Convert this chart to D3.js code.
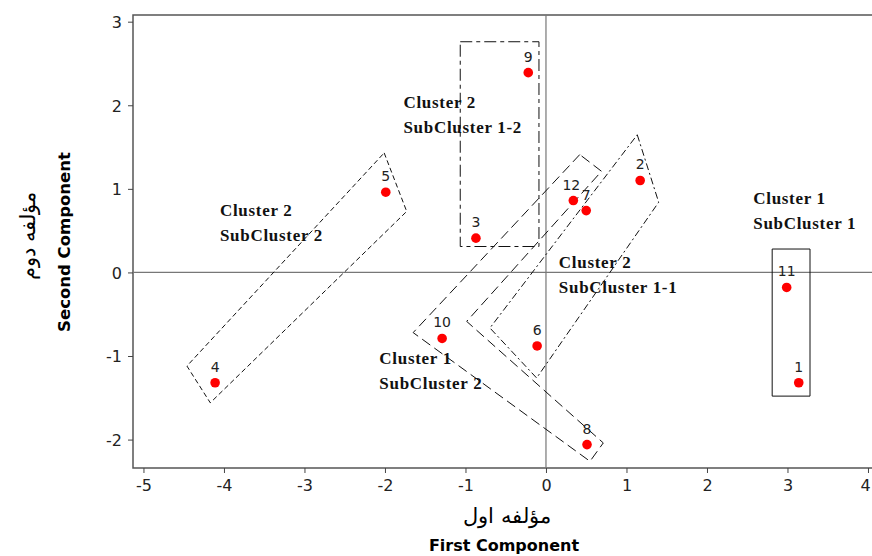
<!DOCTYPE html>
<html lang="en">
<head>
<meta charset="UTF-8">
<title>Cluster plot</title>
<style>
  body { margin: 0; background: #fff; }
  svg { display: block; }
  .tick text { font-family: "DejaVu Sans", sans-serif; font-size: 16px; fill: #222; }
  .tick line { stroke: #444; }
  .clab { font-family: "Liberation Serif", serif; font-weight: bold; font-size: 17px; letter-spacing: 0.7px; fill: #111; }
  .plab { font-family: "DejaVu Sans", sans-serif; font-size: 14px; fill: #222; }
</style>
</head>
<body>
<svg width="872" height="556"></svg>
<script src="https://d3js.org/d3.v7.min.js"></script>
<script>
// point scores
var pointIds = ["1", "2", "3", "4", "5", "6", "7", "8", "9", "10", "11", "12"];
var pointX = [3.14, 1.17, -0.87, -4.11, -1.99, -0.11, 0.50, 0.51, -0.22, -1.29, 2.99, 0.34];
var pointY = [-1.32, 1.10, 0.41, -1.32, 0.96, -0.88, 0.74, -2.06, 2.39, -0.79, -0.18, 0.86];

var xTicks = [-5, -4, -3, -2, -1, 0, 1, 2, 3, 4];
var yTicks = [-2, -1, 0, 1, 2, 3];

// cluster outlines (data coords)
var hullC2S2 = [[-2.01, 1.43], [-1.73, 0.73], [-4.17, -1.56], [-4.46, -1.12]];
var hullC2S12 = [[-1.065, 2.76], [-0.087, 2.76], [-0.087, 0.31], [-1.065, 0.31]];
var hullC2S11 = [[1.134, 1.647], [1.40, 0.84], [-0.116, -1.263], [-0.696, -0.665]];
var hullC1S2 = [[0.42, 1.41], [-1.65, -0.72], [0.547, -2.26], [0.712, -2.04], [-0.985, -0.586], [0.69, 1.21]];
var hullC1S1 = [[2.81, 0.28], [3.28, 0.28], [3.28, -1.48], [2.81, -1.48]];

var clusterLines1 = ["Cluster 2", "Cluster 2", "Cluster 2", "Cluster 1", "Cluster 1"];
var clusterLines2 = ["SubCluster 2", "SubCluster 1-2", "SubCluster 1-1", "SubCluster 2", "SubCluster 1"];
var clusterLabX = [-4.05, -1.77, 0.16, -2.07, 2.575];
var clusterLabY = [0.68, 1.97, 0.05, -1.10, 0.82];

var svg = d3.select("svg");

var x = d3.scaleLinear().domain([-5.13, 4.05]).range([133, 872]);
var y = d3.scaleLinear().domain([-2.34, 3.08]).range([468, 15]);

// frame
svg.append("rect")
    .attr("x", x.range()[0]).attr("y", y.range()[1])
    .attr("width", 745).attr("height", y.range()[0] - y.range()[1])
    .attr("fill", "none").attr("stroke", "#555").attr("stroke-width", 1.5);

// reference lines
svg.append("line").attr("x1", x(0)).attr("x2", x(0)).attr("y1", y.range()[1]).attr("y2", y.range()[0])
    .attr("stroke", "#777").attr("stroke-width", 1.2);
svg.append("line").attr("x1", x.range()[0]).attr("x2", x.range()[1]).attr("y1", y(0)).attr("y2", y(0))
    .attr("stroke", "#777").attr("stroke-width", 1.2);

// axes (plain hyphen for negatives, like the original)
var fmt = d => String(d);
var gx = svg.append("g")
    .attr("transform", "translate(0," + y.range()[0] + ")")
    .call(d3.axisBottom(x).tickValues(xTicks).tickSize(5).tickPadding(7).tickFormat(fmt));
gx.select(".domain").remove();
// last label sits at the page edge, nudge it in
gx.selectAll(".tick text").filter(d => d == 4).attr("dx", -3);

var gy = svg.append("g")
    .attr("transform", "translate(" + x.range()[0] + ",0)")
    .call(d3.axisLeft(y).tickValues(yTicks).tickSize(5).tickPadding(6).tickFormat(fmt));
gy.select(".domain").remove();
gy.selectAll(".tick text").attr("dy", "0.36em");

// outlines
var line = d3.line().x(d => x(d[0])).y(d => y(d[1])).curve(d3.curveLinearClosed);
var hulls = [
    { pts: hullC2S2, dash: "5,3" },
    { pts: hullC2S12, dash: "12,4,4,4" },
    { pts: hullC2S11, dash: "7,3,2,3" },
    { pts: hullC1S2, dash: "10,5" },
    { pts: hullC1S1, dash: null }
];
svg.selectAll(".hull")
    .data(hulls).enter()
    .append("path")
    .attr("class", "hull")
    .attr("d", d => line(d.pts))
    .attr("fill", "none")
    .attr("stroke", "#111")
    .attr("stroke-width", 1)
    .attr("stroke-dasharray", d => d.dash);

// points
var pts = pointIds.map((id, i) => ({ id: id, x: pointX[i], y: pointY[i] }));

svg.selectAll(".pt")
    .data(pts).enter()
    .append("circle")
    .attr("class", "pt")
    .attr("cx", d => x(d.x))
    .attr("cy", d => y(d.y))
    .attr("r", 4.8)
    .attr("fill", "#f00");

svg.selectAll(".plab")
    .data(pts).enter()
    .append("text")
    .attr("class", "plab")
    .attr("x", d => x(d.x) + (d.id == "12" ? -2 : 0))
    .attr("y", d => y(d.y) - 11)
    .attr("text-anchor", "middle")
    .text(d => d.id);

// cluster labels
clusterLines1.forEach(function (t, i) {
    var tx = svg.append("text")
        .attr("class", "clab")
        .attr("x", x(clusterLabX[i]))
        .attr("y", y(clusterLabY[i]));
    tx.append("tspan").attr("x", x(clusterLabX[i])).text(t);
    tx.append("tspan").attr("x", x(clusterLabX[i])).attr("dy", 25).text(clusterLines2[i]);
});

// axis titles
svg.append("text")
    .attr("x", 507).attr("y", 523)
    .attr("text-anchor", "middle")
    .style("font-family", "'DejaVu Serif', serif")
    .style("font-size", "21px")
    .text("مؤلفه اول");

svg.append("text")
    .attr("x", 504).attr("y", 551)
    .attr("text-anchor", "middle")
    .style("font-family", "'DejaVu Sans', sans-serif")
    .style("font-weight", "bold")
    .style("font-size", "16px")
    .text("First Component");

svg.append("text")
    .attr("transform", "translate(70,242) rotate(-90)")
    .attr("text-anchor", "middle")
    .style("font-family", "'DejaVu Sans', sans-serif")
    .style("font-weight", "bold")
    .style("font-size", "16.5px")
    .text("Second Component");

svg.append("text")
    .attr("transform", "translate(35,236) rotate(-90)")
    .attr("text-anchor", "middle")
    .style("font-family", "'DejaVu Serif', serif")
    .style("font-size", "21px")
    .text("مؤلفه دوم");
</script>
</body>
</html>
